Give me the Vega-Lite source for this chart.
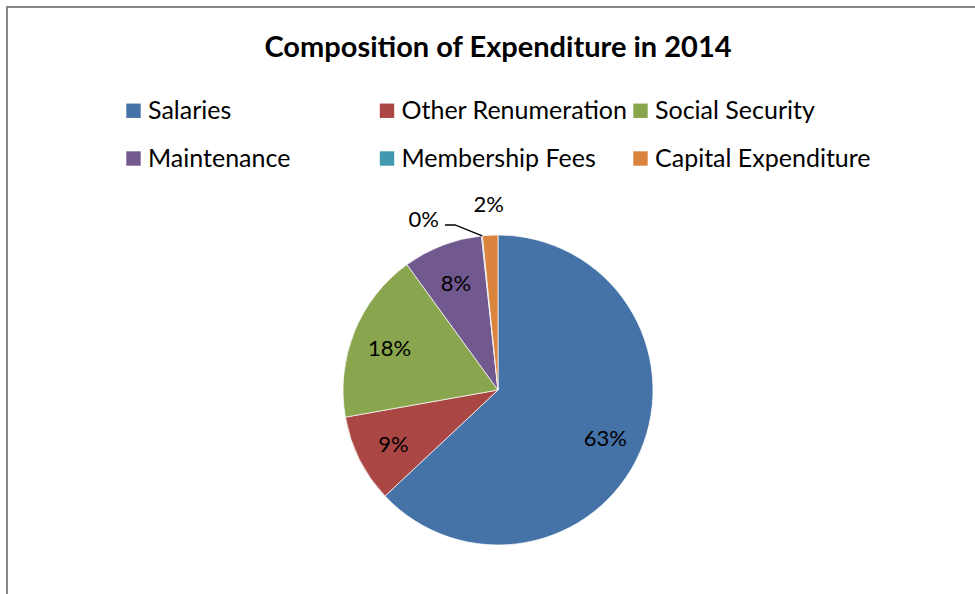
{
  "$schema": "https://vega.github.io/schema/vega-lite/v6.json",
  "autosize": {"type": "none"},
  "width": 982,
  "height": 766,
  "padding": {"left": 7, "top": 7, "right": -14, "bottom": -179},
  "background": "white",
  "config": {
    "view": {"stroke": "#878787", "strokeWidth": 2, "fill": null},
    "font": "Lato"
  },
  "title": {
    "text": "Composition of Expenditure in 2014",
    "font": "Lato",
    "fontSize": 29,
    "fontWeight": "bold",
    "color": "#000000",
    "anchor": "middle",
    "frame": "group",
    "baseline": "alphabetic",
    "offset": -79
  },
  "datasets": {
    "exp": [
      {"category": "Salaries", "idx": 1, "share": 0.630},
      {"category": "Other Renumeration", "idx": 2, "share": 0.092},
      {"category": "Social Security", "idx": 3, "share": 0.178},
      {"category": "Maintenance", "idx": 4, "share": 0.083},
      {"category": "Membership Fees", "idx": 5, "share": 0.001},
      {"category": "Capital Expenditure", "idx": 6, "share": 0.016}
    ],
    "leader": [
      {"seq": 1, "lx": -53, "ly": 165},
      {"seq": 2, "lx": -43, "ly": 165},
      {"seq": 3, "lx": -15.7, "ly": 154.2}
    ]
  },
  "layer": [
    {
      "data": {"name": "exp"},
      "mark": {"type": "arc", "outerRadius": 155, "stroke": "#ffffff", "strokeWidth": 0.7},
      "encoding": {
        "theta": {"field": "share", "type": "quantitative", "stack": true},
        "order": {"field": "idx", "type": "quantitative"},
        "color": {
          "field": "category",
          "type": "nominal",
          "scale": {
            "domain": ["Salaries", "Other Renumeration", "Social Security", "Maintenance", "Membership Fees", "Capital Expenditure"],
            "range": ["#4572A7", "#AA4643", "#89A54E", "#71588F", "#4198AF", "#DB843D"]
          },
          "legend": {
            "title": null,
            "orient": "none",
            "legendX": 114,
            "legendY": 91,
            "direction": "horizontal",
            "columns": 3,
            "gridAlign": "all",
            "columnPadding": 0.5,
            "rowPadding": 22,
            "padding": 0,
            "symbolType": "square",
            "symbolSize": 207,
            "symbolStrokeWidth": 0,
            "labelFont": "Lato",
            "labelFontSize": 25,
            "labelColor": "#000000",
            "labelOffset": 2,
            "labelLimit": 400
          }
        }
      }
    },
    {
      "data": {"name": "exp"},
      "mark": {"type": "text", "radius": 117, "dy": 3, "font": "Lato", "fontSize": 22, "color": "#000000"},
      "encoding": {
        "theta": {"field": "share", "type": "quantitative", "stack": true},
        "order": {"field": "idx", "type": "quantitative"},
        "text": {"field": "share", "type": "quantitative", "format": ".0%"},
        "opacity": {"condition": {"test": "datum.idx <= 4", "value": 1}, "value": 0}
      }
    },
    {
      "data": {"name": "exp"},
      "mark": {"type": "text", "radius": 185, "font": "Lato", "fontSize": 22, "color": "#000000"},
      "encoding": {
        "theta": {"field": "share", "type": "quantitative", "stack": true},
        "order": {"field": "idx", "type": "quantitative"},
        "text": {"field": "share", "type": "quantitative", "format": ".0%"},
        "opacity": {"condition": {"test": "datum.idx == 6", "value": 1}, "value": 0}
      }
    },
    {
      "data": {"name": "exp"},
      "mark": {"type": "text", "radius": 187, "dx": -55, "dy": 16, "font": "Lato", "fontSize": 22, "color": "#000000"},
      "encoding": {
        "theta": {"field": "share", "type": "quantitative", "stack": true},
        "order": {"field": "idx", "type": "quantitative"},
        "text": {"field": "share", "type": "quantitative", "format": ".0%"},
        "opacity": {"condition": {"test": "datum.idx == 5", "value": 1}, "value": 0}
      }
    },
    {
      "data": {"name": "leader"},
      "mark": {"type": "line", "color": "#000000", "strokeWidth": 1.3},
      "encoding": {
        "x": {"field": "lx", "type": "quantitative", "scale": {"domain": [-491, 491]}, "axis": null},
        "y": {"field": "ly", "type": "quantitative", "scale": {"domain": [-383, 383]}, "axis": null},
        "order": {"field": "seq", "type": "quantitative"}
      }
    }
  ]
}
